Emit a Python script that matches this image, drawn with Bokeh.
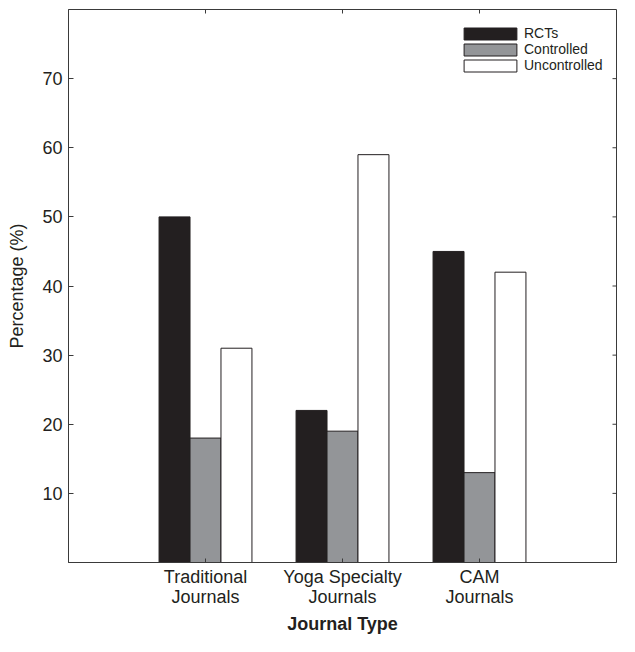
import math
from bokeh.plotting import figure
from bokeh.models import ColumnDataSource, FixedTicker, Range1d, Legend, LegendItem
from bokeh.transform import dodge
from bokeh.embed import file_html
from bokeh.resources import INLINE

categories = ["Traditional\nJournals", "Yoga Specialty\nJournals", "CAM\nJournals"]
positions = [1, 2, 3]
rcts = [50, 22, 45]
controlled = [18, 19, 13]
uncontrolled = [31, 59, 42]
y_ticks = [10, 20, 30, 40, 50, 60, 70]
series_names = ["RCTs", "Controlled", "Uncontrolled"]

FONT = "Liberation Sans"
LINE = "#3a3a3a"
TXT = "#231f20"

src = ColumnDataSource(dict(x=positions, rcts=rcts, controlled=controlled, uncontrolled=uncontrolled))

p = figure(width=619, height=636, output_backend="svg", toolbar_location=None,
           x_range=Range1d(0, 4), y_range=Range1d(0, 80),
           min_border_left=68, min_border_right=3, min_border_top=9, min_border_bottom=70)
p.xgrid.visible = False
p.ygrid.visible = False
p.outline_line_color = LINE
p.outline_line_width = 1

bw = 0.226
r1 = p.vbar(x=dodge("x", -bw, range=p.x_range), top="rcts", width=bw, source=src,
            fill_color="#231f20", line_color="#231f20", line_width=1)
r2 = p.vbar(x=dodge("x", 0, range=p.x_range), top="controlled", width=bw, source=src,
            fill_color="#939598", line_color="#231f20", line_width=1)
r3 = p.vbar(x=dodge("x", bw, range=p.x_range), top="uncontrolled", width=bw, source=src,
            fill_color="#ffffff", line_color="#231f20", line_width=1)

# bottom axis
xa = p.xaxis[0]
xa.ticker = FixedTicker(ticks=positions)
xa.major_label_overrides = {pos: lab for pos, lab in zip(positions, categories)}
xa.axis_label = "Journal Type"
xa.axis_label_text_font = FONT
xa.axis_label_text_font_style = "bold"
xa.axis_label_text_font_size = "18px"
xa.axis_label_text_color = TXT
xa.axis_label_standoff = 4
xa.major_label_text_font = FONT
xa.major_label_text_font_size = "18px"
xa.major_label_text_color = TXT
xa.major_label_text_line_height = 1.0
xa.major_label_standoff = 4
xa.major_tick_in = 4
xa.major_tick_out = 0
xa.minor_tick_line_color = None
xa.axis_line_color = LINE
xa.major_tick_line_color = LINE

# left axis
ya = p.yaxis[0]
ya.ticker = FixedTicker(ticks=y_ticks)
ya.axis_label = "Percentage (%)"
ya.axis_label_text_font = FONT
ya.axis_label_text_font_style = "normal"
ya.axis_label_text_font_size = "18px"
ya.axis_label_text_color = TXT
ya.axis_label_standoff = 12
ya.major_label_text_font = FONT
ya.major_label_text_font_size = "18px"
ya.major_label_text_color = TXT
ya.major_label_standoff = 6
ya.major_tick_in = 5
ya.major_tick_out = 0
ya.minor_tick_line_color = None
ya.axis_line_color = LINE
ya.major_tick_line_color = LINE

# mirrored ticks on top and right edges of the box
p.ray(x=positions, y=[p.y_range.end] * len(positions), length=4, length_units="screen",
      angle=-math.pi / 2, line_color=LINE, line_width=1)
p.ray(x=[p.x_range.end] * len(y_ticks), y=y_ticks, length=4, length_units="screen",
      angle=math.pi, line_color=LINE, line_width=1)

# compact legend: one single-item legend per row so rows can sit tightly
row_offsets = [521, 505, 489]
for name, rend, yoff in zip(series_names, [r1, r2, r3], row_offsets):
    lg = Legend(items=[LegendItem(label=name, renderers=[rend])],
                location=(389, yoff), orientation="vertical",
                glyph_width=66, glyph_height=15, padding=0, margin=0,
                label_text_font=FONT, label_text_font_size="14px", label_text_color=TXT,
                label_standoff=1, background_fill_alpha=0, border_line_color=None)
    p.add_layout(lg, "center")

open("out.html", "w").write(file_html(p, INLINE))
